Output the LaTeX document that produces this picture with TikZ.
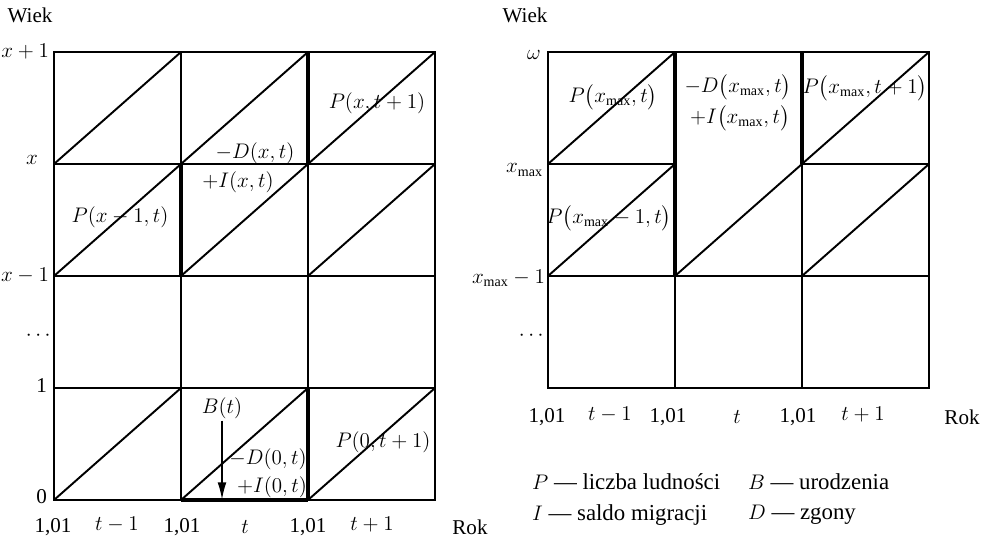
\documentclass[tikz,border=0pt]{standalone}
\usepackage{amsmath}
\usepackage{fontspec}
\setmainfont{Liberation Serif}
\usetikzlibrary{arrows.meta,positioning}

\begin{document}
\begin{tikzpicture}[
        x=0.02cm, y=-0.02cm,
        font=\fontsize{12}{14}\selectfont,
        gridline/.style={line width=1.1pt, draw=black},
        heavy/.style={line width=2.8pt, draw=black},
        lexis/.style={line width=1.1pt, draw=black},
        lbl/.style={inner sep=1pt},
        agelbl/.style={inner sep=1pt, anchor=east},
        leglbl/.style={inner sep=1pt, anchor=west, font=\fontsize{13}{15}\selectfont},
        birth/.style={-{Latex[length=10pt,width=5pt]}, line width=1.1pt}
    ]
        \useasboundingbox (0,0) rectangle (989,540);

        % Left diagram: grid
        \draw[gridline] (54,52) rectangle (435,500);
        \foreach \xx in {181,308} \draw[gridline] (\xx,52) -- (\xx,500);
        \foreach \yy in {164,276,388} \draw[gridline] (54,\yy) -- (435,\yy);

        % Left diagram: life lines
        \foreach \xx in {54,181,308}
            \foreach \yy in {164,276,500}
                \draw[lexis] (\xx,\yy) -- ++(127,-112);

        % Left diagram: heavy borders
        \draw[heavy] (181,164) -- (181,276);
        \draw[heavy] (308,52) -- (308,164);
        \draw[heavy] (308,388) -- (308,500);
        \draw[heavy] (181,500) -- (308,500);

        % Left diagram: axes
        \node[lbl] (wiekL) at (30,15) {Wiek};
        \node[agelbl] (aL1) at (51,52) {$x+1$};
        \node[lbl] (aL2) at (32,160) {$x$};
        \node[agelbl] (aL3) at (51,276) {$x-1$};
        \node[lbl] (aL4) at (40,336) {$\cdots$};
        \node[agelbl] (aL5) at (49,386) {1};
        \node[agelbl] (aL6) at (49,497) {0};

        \node[lbl] (yL1) at (53,527) {1,01};
        \node[lbl] (yL2) at (117,525) {$t-1$};
        \node[lbl] (yL3) at (182,527) {1,01};
        \node[lbl] (yL4) at (245,527) {$t$};
        \node[lbl] (yL5) at (308,527) {1,01};
        \node[lbl] (yL6) at (372,525) {$t+1$};
        \node[lbl] (rokL) at (470,527) {Rok};

        % Left diagram: cell labels
        \node[lbl] (pxt1) at (377,103) {$P(x,t+1)$};
        \node[lbl] (dxt) at (255,153) {$-D(x,t)$};
        \node[lbl] (ixt) at (238,182) {$+I(x,t)$};
        \node[lbl] (px1t) at (120,217) {$P(x-1,t)$};
        \node[lbl] (bt) at (222,408) {$B(t)$};
        \node[lbl] (d0t) at (268,459) {$-D(0,t)$};
        \node[lbl] (i0t) at (272,487) {$+I(0,t)$};
        \node[lbl] (p0t1) at (383,442) {$P(0,t+1)$};

        \coordinate (birthpt) at (221,500);
        \draw[birth] (bt) -- (bt |- birthpt);

        % Right diagram: grid
        \draw[gridline] (548,52) rectangle (929,388);
        \foreach \xx in {675,802} \draw[gridline] (\xx,52) -- (\xx,388);
        \draw[gridline] (548,164) -- (675,164);
        \draw[gridline] (802,164) -- (929,164);
        \draw[gridline] (548,276) -- (929,276);

        % Right diagram: life lines
        \draw[lexis] (548,164) -- ++(127,-112);
        \draw[lexis] (802,164) -- ++(127,-112);
        \foreach \xx in {548,675,802}
            \draw[lexis] (\xx,276) -- ++(127,-112);

        % Right diagram: heavy borders
        \draw[heavy] (675,52) -- (675,276);
        \draw[heavy] (802,52) -- (802,164);

        % Right diagram: axes
        \node[lbl] (wiekR) at (525,15) {Wiek};
        \node[lbl] (aR1) at (534,55) {$\omega$};
        \node[agelbl] (aR2) at (545,170) {$x_{\max}$};
        \node[agelbl] (aR3) at (547,278) {$x_{\max}-1$};
        \node[lbl] (aR4) at (533,336) {$\cdots$};

        \node[lbl] (yR1) at (547,417) {1,01};
        \node[lbl] (yR2) at (610,415) {$t-1$};
        \node[lbl] (yR3) at (668,417) {1,01};
        \node[lbl] (yR4) at (737,417) {$t$};
        \node[lbl] (yR5) at (798,417) {1,01};
        \node[lbl] (yR6) at (863,415) {$t+1$};
        \node[lbl] (rokR) at (962,417) {Rok};

        % Right diagram: cell labels
        \node[lbl] (pxmt) at (613,97) {$P\bigl(x_{\max},t\bigr)$};
        \node[lbl] (dxmt) at (738,87) {$-D\bigl(x_{\max},t\bigr)$};
        \node[lbl] (ixmt) at (740,118) {$+I\bigl(x_{\max},t\bigr)$};
        \node[lbl] (pxmt1) at (865,88) {$P\bigl(x_{\max},t+1\bigr)$};
        \node[lbl] (pxm1t) at (609,218) {$P\bigl(x_{\max}-1,t\bigr)$};

        % Legend
        \node[leglbl] (legP) at (530,482) {$P$ --- liczba ludności};
        \node[leglbl] (legB) at (746,482) {$B$ --- urodzenia};
        \node[leglbl] (legI) at (530,515) {$I$ --- saldo migracji};
        \node[leglbl] (legD) at (746,515) {$D$ --- zgony};
    \end{tikzpicture}
\end{document}
